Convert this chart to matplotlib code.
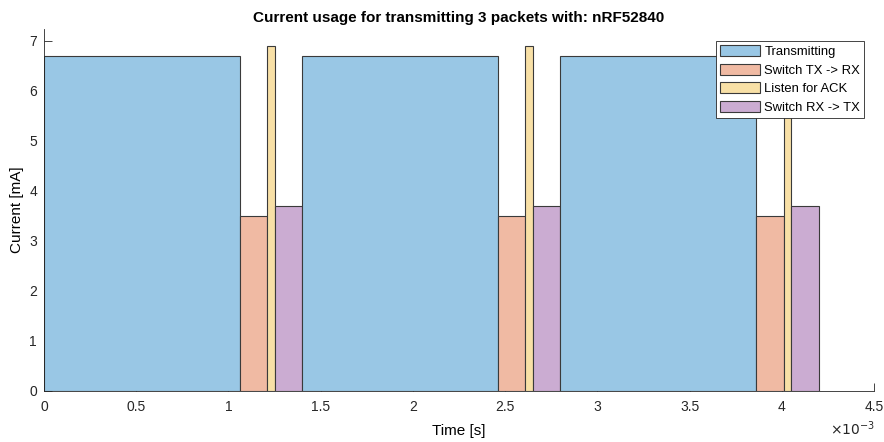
import matplotlib
matplotlib.use("Agg")
import matplotlib.pyplot as plt
from matplotlib.patches import Patch
from matplotlib.ticker import FuncFormatter

plt.rcParams['font.family'] = ['Liberation Sans', 'DejaVu Sans']

# Data
phases = ["Transmitting", "Switch TX -> RX", "Listen for ACK", "Switch RX -> TX"]
durations_s = [1.06e-3, 0.15e-3, 0.04e-3, 0.15e-3]
currents_mA = [6.7, 3.5, 6.9, 3.7]
n_packets = 3
colors = ["#99C7E5", "#F0BAA3", "#F8E0A6", "#CBACD2"]

fig = plt.figure(figsize=(8.84, 4.42), dpi=100)
ax = fig.add_axes([44/884, 51/442, 830/884, 362/442])

t = 0.0
for p in range(n_packets):
    for i, (d, c) in enumerate(zip(durations_s, currents_mA)):
        ax.bar(t, c, width=d, align='edge', color=colors[i],
               edgecolor='#3a3a3a', linewidth=0.8, zorder=2)
        t += d

ax.set_xlim(0, 4.5e-3)
ax.set_ylim(0, 7.24)
ax.set_xticks([i * 0.5e-3 for i in range(10)])
ax.set_yticks(range(8))
ax.xaxis.set_major_formatter(FuncFormatter(lambda v, pos: f"{v*1e3:g}"))

for s in ['top', 'right']:
    ax.spines[s].set_visible(False)
for s in ['left', 'bottom']:
    ax.spines[s].set_color('#262626')
    ax.spines[s].set_linewidth(0.6)
ax.tick_params(direction='in', length=6, width=0.6, colors='#262626',
               labelsize=10)
ax.tick_params(axis='x', pad=6.5)
ax.tick_params(axis='y', pad=5)

ax.set_title("Current usage for transmitting 3 packets with: nRF52840",
             fontsize=11, fontweight='bold', pad=5)
ax.set_xlabel("Time [s]", fontsize=11, labelpad=7)
ax.set_ylabel("Current [mA]", fontsize=11, labelpad=3.5)

fig.text(875/884, 1 - 429/442, r"$\times10^{-3}$", ha='right', va='center',
         fontsize=10, color='#262626')

handles = [Patch(facecolor=colors[i], edgecolor='#3a3a3a', linewidth=0.8,
                 label=phases[i]) for i in range(4)]
leg = ax.legend(handles=handles, loc='upper right', fontsize=9.4,
                frameon=True, fancybox=False, framealpha=1,
                edgecolor='#262626', handlelength=3.1, handleheight=0.95,
                labelspacing=0.42, borderpad=0.3, handletextpad=0.3,
                borderaxespad=0,
                bbox_to_anchor=(864/884, (442-41)/442),
                bbox_transform=fig.transFigure)
leg.get_frame().set_linewidth(0.6)
leg.set_zorder(5)

fig.savefig("out.png", dpi=100)
